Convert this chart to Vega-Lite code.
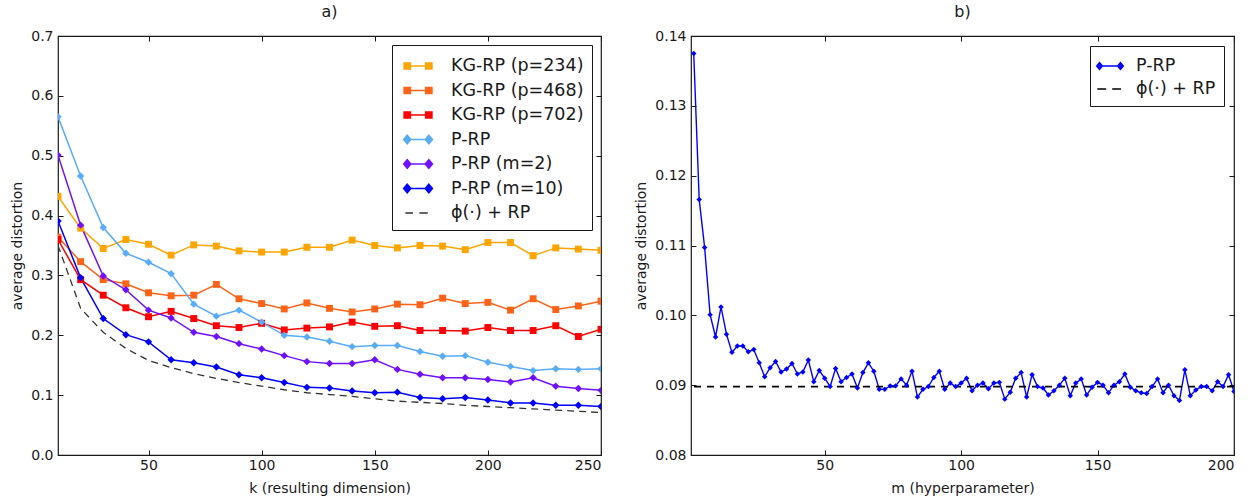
{
"$schema": "https://vega.github.io/schema/vega-lite/v6.json",
"padding": {"left": 10, "top": 3, "right": 5, "bottom": 0},
"config": {
  "font": "DejaVu Sans",
  "view": {"stroke": "#1a1a1a", "strokeWidth": 1.2},
  "axis": {"grid": false, "domain": false, "tickSize": -5, "tickColor": "#1a1a1a", "tickWidth": 1, "labelPadding": 10, "labelFontSize": 14, "labelColor": "#1a1a1a", "titleFontSize": 14, "titleFontWeight": "normal", "titleColor": "#1a1a1a", "titlePadding": 6},
  "axisBottom": {"labelPadding": 8, "titlePadding": 9},
  "title": {"fontSize": 16, "fontWeight": "normal", "offset": 9, "color": "#1a1a1a"}
},
"datasets": {
"a": [
{"k":10,"series":"KG-RP (p=234)","value":0.432},{"k":20,"series":"KG-RP (p=234)","value":0.379},{"k":30,"series":"KG-RP (p=234)","value":0.345},{"k":40,"series":"KG-RP (p=234)","value":0.360},{"k":50,"series":"KG-RP (p=234)","value":0.352},{"k":60,"series":"KG-RP (p=234)","value":0.334},{"k":70,"series":"KG-RP (p=234)","value":0.351},{"k":80,"series":"KG-RP (p=234)","value":0.349},{"k":90,"series":"KG-RP (p=234)","value":0.341},{"k":100,"series":"KG-RP (p=234)","value":0.339},{"k":110,"series":"KG-RP (p=234)","value":0.339},{"k":120,"series":"KG-RP (p=234)","value":0.347},{"k":130,"series":"KG-RP (p=234)","value":0.347},{"k":140,"series":"KG-RP (p=234)","value":0.359},{"k":150,"series":"KG-RP (p=234)","value":0.350},{"k":160,"series":"KG-RP (p=234)","value":0.346},{"k":170,"series":"KG-RP (p=234)","value":0.350},{"k":180,"series":"KG-RP (p=234)","value":0.349},{"k":190,"series":"KG-RP (p=234)","value":0.343},{"k":200,"series":"KG-RP (p=234)","value":0.355},{"k":210,"series":"KG-RP (p=234)","value":0.355},{"k":220,"series":"KG-RP (p=234)","value":0.333},{"k":230,"series":"KG-RP (p=234)","value":0.346},{"k":240,"series":"KG-RP (p=234)","value":0.344},{"k":250,"series":"KG-RP (p=234)","value":0.342},
{"k":10,"series":"KG-RP (p=468)","value":0.364},{"k":20,"series":"KG-RP (p=468)","value":0.323},{"k":30,"series":"KG-RP (p=468)","value":0.293},{"k":40,"series":"KG-RP (p=468)","value":0.286},{"k":50,"series":"KG-RP (p=468)","value":0.271},{"k":60,"series":"KG-RP (p=468)","value":0.266},{"k":70,"series":"KG-RP (p=468)","value":0.267},{"k":80,"series":"KG-RP (p=468)","value":0.285},{"k":90,"series":"KG-RP (p=468)","value":0.261},{"k":100,"series":"KG-RP (p=468)","value":0.253},{"k":110,"series":"KG-RP (p=468)","value":0.244},{"k":120,"series":"KG-RP (p=468)","value":0.254},{"k":130,"series":"KG-RP (p=468)","value":0.245},{"k":140,"series":"KG-RP (p=468)","value":0.239},{"k":150,"series":"KG-RP (p=468)","value":0.244},{"k":160,"series":"KG-RP (p=468)","value":0.252},{"k":170,"series":"KG-RP (p=468)","value":0.251},{"k":180,"series":"KG-RP (p=468)","value":0.262},{"k":190,"series":"KG-RP (p=468)","value":0.253},{"k":200,"series":"KG-RP (p=468)","value":0.255},{"k":210,"series":"KG-RP (p=468)","value":0.242},{"k":220,"series":"KG-RP (p=468)","value":0.261},{"k":230,"series":"KG-RP (p=468)","value":0.243},{"k":240,"series":"KG-RP (p=468)","value":0.249},{"k":250,"series":"KG-RP (p=468)","value":0.257},
{"k":10,"series":"KG-RP (p=702)","value":0.360},{"k":20,"series":"KG-RP (p=702)","value":0.293},{"k":30,"series":"KG-RP (p=702)","value":0.267},{"k":40,"series":"KG-RP (p=702)","value":0.246},{"k":50,"series":"KG-RP (p=702)","value":0.231},{"k":60,"series":"KG-RP (p=702)","value":0.240},{"k":70,"series":"KG-RP (p=702)","value":0.228},{"k":80,"series":"KG-RP (p=702)","value":0.216},{"k":90,"series":"KG-RP (p=702)","value":0.213},{"k":100,"series":"KG-RP (p=702)","value":0.220},{"k":110,"series":"KG-RP (p=702)","value":0.209},{"k":120,"series":"KG-RP (p=702)","value":0.212},{"k":130,"series":"KG-RP (p=702)","value":0.214},{"k":140,"series":"KG-RP (p=702)","value":0.222},{"k":150,"series":"KG-RP (p=702)","value":0.215},{"k":160,"series":"KG-RP (p=702)","value":0.216},{"k":170,"series":"KG-RP (p=702)","value":0.208},{"k":180,"series":"KG-RP (p=702)","value":0.208},{"k":190,"series":"KG-RP (p=702)","value":0.207},{"k":200,"series":"KG-RP (p=702)","value":0.213},{"k":210,"series":"KG-RP (p=702)","value":0.208},{"k":220,"series":"KG-RP (p=702)","value":0.208},{"k":230,"series":"KG-RP (p=702)","value":0.216},{"k":240,"series":"KG-RP (p=702)","value":0.198},{"k":250,"series":"KG-RP (p=702)","value":0.210},
{"k":10,"series":"P-RP","value":0.565},{"k":20,"series":"P-RP","value":0.466},{"k":30,"series":"P-RP","value":0.380},{"k":40,"series":"P-RP","value":0.337},{"k":50,"series":"P-RP","value":0.322},{"k":60,"series":"P-RP","value":0.303},{"k":70,"series":"P-RP","value":0.252},{"k":80,"series":"P-RP","value":0.232},{"k":90,"series":"P-RP","value":0.242},{"k":100,"series":"P-RP","value":0.222},{"k":110,"series":"P-RP","value":0.200},{"k":120,"series":"P-RP","value":0.197},{"k":130,"series":"P-RP","value":0.190},{"k":140,"series":"P-RP","value":0.181},{"k":150,"series":"P-RP","value":0.183},{"k":160,"series":"P-RP","value":0.183},{"k":170,"series":"P-RP","value":0.173},{"k":180,"series":"P-RP","value":0.165},{"k":190,"series":"P-RP","value":0.166},{"k":200,"series":"P-RP","value":0.155},{"k":210,"series":"P-RP","value":0.148},{"k":220,"series":"P-RP","value":0.141},{"k":230,"series":"P-RP","value":0.144},{"k":240,"series":"P-RP","value":0.143},{"k":250,"series":"P-RP","value":0.144},
{"k":10,"series":"P-RP (m=2)","value":0.501},{"k":20,"series":"P-RP (m=2)","value":0.384},{"k":30,"series":"P-RP (m=2)","value":0.299},{"k":40,"series":"P-RP (m=2)","value":0.276},{"k":50,"series":"P-RP (m=2)","value":0.242},{"k":60,"series":"P-RP (m=2)","value":0.229},{"k":70,"series":"P-RP (m=2)","value":0.205},{"k":80,"series":"P-RP (m=2)","value":0.198},{"k":90,"series":"P-RP (m=2)","value":0.186},{"k":100,"series":"P-RP (m=2)","value":0.177},{"k":110,"series":"P-RP (m=2)","value":0.166},{"k":120,"series":"P-RP (m=2)","value":0.156},{"k":130,"series":"P-RP (m=2)","value":0.153},{"k":140,"series":"P-RP (m=2)","value":0.153},{"k":150,"series":"P-RP (m=2)","value":0.159},{"k":160,"series":"P-RP (m=2)","value":0.143},{"k":170,"series":"P-RP (m=2)","value":0.135},{"k":180,"series":"P-RP (m=2)","value":0.129},{"k":190,"series":"P-RP (m=2)","value":0.129},{"k":200,"series":"P-RP (m=2)","value":0.126},{"k":210,"series":"P-RP (m=2)","value":0.122},{"k":220,"series":"P-RP (m=2)","value":0.129},{"k":230,"series":"P-RP (m=2)","value":0.115},{"k":240,"series":"P-RP (m=2)","value":0.111},{"k":250,"series":"P-RP (m=2)","value":0.108},
{"k":10,"series":"P-RP (m=10)","value":0.391},{"k":20,"series":"P-RP (m=10)","value":0.296},{"k":30,"series":"P-RP (m=10)","value":0.228},{"k":40,"series":"P-RP (m=10)","value":0.201},{"k":50,"series":"P-RP (m=10)","value":0.189},{"k":60,"series":"P-RP (m=10)","value":0.159},{"k":70,"series":"P-RP (m=10)","value":0.154},{"k":80,"series":"P-RP (m=10)","value":0.147},{"k":90,"series":"P-RP (m=10)","value":0.134},{"k":100,"series":"P-RP (m=10)","value":0.129},{"k":110,"series":"P-RP (m=10)","value":0.121},{"k":120,"series":"P-RP (m=10)","value":0.113},{"k":130,"series":"P-RP (m=10)","value":0.112},{"k":140,"series":"P-RP (m=10)","value":0.107},{"k":150,"series":"P-RP (m=10)","value":0.104},{"k":160,"series":"P-RP (m=10)","value":0.105},{"k":170,"series":"P-RP (m=10)","value":0.096},{"k":180,"series":"P-RP (m=10)","value":0.094},{"k":190,"series":"P-RP (m=10)","value":0.096},{"k":200,"series":"P-RP (m=10)","value":0.092},{"k":210,"series":"P-RP (m=10)","value":0.087},{"k":220,"series":"P-RP (m=10)","value":0.087},{"k":230,"series":"P-RP (m=10)","value":0.083},{"k":240,"series":"P-RP (m=10)","value":0.083},{"k":250,"series":"P-RP (m=10)","value":0.081},
{"k":10,"series":"ϕ(·) + RP","value":0.350},{"k":20,"series":"ϕ(·) + RP","value":0.245},{"k":30,"series":"ϕ(·) + RP","value":0.205},{"k":40,"series":"ϕ(·) + RP","value":0.178},{"k":50,"series":"ϕ(·) + RP","value":0.158},{"k":60,"series":"ϕ(·) + RP","value":0.146},{"k":70,"series":"ϕ(·) + RP","value":0.136},{"k":80,"series":"ϕ(·) + RP","value":0.128},{"k":90,"series":"ϕ(·) + RP","value":0.121},{"k":100,"series":"ϕ(·) + RP","value":0.115},{"k":110,"series":"ϕ(·) + RP","value":0.109},{"k":120,"series":"ϕ(·) + RP","value":0.104},{"k":130,"series":"ϕ(·) + RP","value":0.101},{"k":140,"series":"ϕ(·) + RP","value":0.098},{"k":150,"series":"ϕ(·) + RP","value":0.094},{"k":160,"series":"ϕ(·) + RP","value":0.090},{"k":170,"series":"ϕ(·) + RP","value":0.088},{"k":180,"series":"ϕ(·) + RP","value":0.086},{"k":190,"series":"ϕ(·) + RP","value":0.083},{"k":200,"series":"ϕ(·) + RP","value":0.081},{"k":210,"series":"ϕ(·) + RP","value":0.079},{"k":220,"series":"ϕ(·) + RP","value":0.077},{"k":230,"series":"ϕ(·) + RP","value":0.075},{"k":240,"series":"ϕ(·) + RP","value":0.073},{"k":250,"series":"ϕ(·) + RP","value":0.071}
],
"b": [
{"m":2,"series":"P-RP","value":0.1375},{"m":4,"series":"P-RP","value":0.1166},{"m":6,"series":"P-RP","value":0.1097},{"m":8,"series":"P-RP","value":0.1001},{"m":10,"series":"P-RP","value":0.0969},{"m":12,"series":"P-RP","value":0.1012},{"m":14,"series":"P-RP","value":0.0973},{"m":16,"series":"P-RP","value":0.0947},{"m":18,"series":"P-RP","value":0.0956},{"m":20,"series":"P-RP","value":0.0956},
{"m":22,"series":"P-RP","value":0.0948},{"m":24,"series":"P-RP","value":0.0951},{"m":26,"series":"P-RP","value":0.0932},{"m":28,"series":"P-RP","value":0.0912},{"m":30,"series":"P-RP","value":0.0925},{"m":32,"series":"P-RP","value":0.0934},{"m":34,"series":"P-RP","value":0.0919},{"m":36,"series":"P-RP","value":0.0923},{"m":38,"series":"P-RP","value":0.0931},{"m":40,"series":"P-RP","value":0.0916},
{"m":42,"series":"P-RP","value":0.0919},{"m":44,"series":"P-RP","value":0.0936},{"m":46,"series":"P-RP","value":0.0905},{"m":48,"series":"P-RP","value":0.0921},{"m":50,"series":"P-RP","value":0.0910},{"m":52,"series":"P-RP","value":0.0898},{"m":54,"series":"P-RP","value":0.0924},{"m":56,"series":"P-RP","value":0.0905},{"m":58,"series":"P-RP","value":0.0911},{"m":60,"series":"P-RP","value":0.0916},
{"m":62,"series":"P-RP","value":0.0896},{"m":64,"series":"P-RP","value":0.0918},{"m":66,"series":"P-RP","value":0.0932},{"m":68,"series":"P-RP","value":0.0920},{"m":70,"series":"P-RP","value":0.0894},{"m":72,"series":"P-RP","value":0.0894},{"m":74,"series":"P-RP","value":0.0899},{"m":76,"series":"P-RP","value":0.0899},{"m":78,"series":"P-RP","value":0.0909},{"m":80,"series":"P-RP","value":0.0900},
{"m":82,"series":"P-RP","value":0.0920},{"m":84,"series":"P-RP","value":0.0883},{"m":86,"series":"P-RP","value":0.0894},{"m":88,"series":"P-RP","value":0.0898},{"m":90,"series":"P-RP","value":0.0911},{"m":92,"series":"P-RP","value":0.0920},{"m":94,"series":"P-RP","value":0.0894},{"m":96,"series":"P-RP","value":0.0903},{"m":98,"series":"P-RP","value":0.0898},{"m":100,"series":"P-RP","value":0.0903},
{"m":102,"series":"P-RP","value":0.0910},{"m":104,"series":"P-RP","value":0.0892},{"m":106,"series":"P-RP","value":0.0900},{"m":108,"series":"P-RP","value":0.0903},{"m":110,"series":"P-RP","value":0.0895},{"m":112,"series":"P-RP","value":0.0903},{"m":114,"series":"P-RP","value":0.0904},{"m":116,"series":"P-RP","value":0.0880},{"m":118,"series":"P-RP","value":0.0890},{"m":120,"series":"P-RP","value":0.0910},
{"m":122,"series":"P-RP","value":0.0918},{"m":124,"series":"P-RP","value":0.0883},{"m":126,"series":"P-RP","value":0.0915},{"m":128,"series":"P-RP","value":0.0898},{"m":130,"series":"P-RP","value":0.0896},{"m":132,"series":"P-RP","value":0.0886},{"m":134,"series":"P-RP","value":0.0892},{"m":136,"series":"P-RP","value":0.0900},{"m":138,"series":"P-RP","value":0.0910},{"m":140,"series":"P-RP","value":0.0885},
{"m":142,"series":"P-RP","value":0.0903},{"m":144,"series":"P-RP","value":0.0909},{"m":146,"series":"P-RP","value":0.0886},{"m":148,"series":"P-RP","value":0.0897},{"m":150,"series":"P-RP","value":0.0904},{"m":152,"series":"P-RP","value":0.0900},{"m":154,"series":"P-RP","value":0.0889},{"m":156,"series":"P-RP","value":0.0900},{"m":158,"series":"P-RP","value":0.0905},{"m":160,"series":"P-RP","value":0.0916},
{"m":162,"series":"P-RP","value":0.0897},{"m":164,"series":"P-RP","value":0.0892},{"m":166,"series":"P-RP","value":0.0889},{"m":168,"series":"P-RP","value":0.0888},{"m":170,"series":"P-RP","value":0.0898},{"m":172,"series":"P-RP","value":0.0909},{"m":174,"series":"P-RP","value":0.0889},{"m":176,"series":"P-RP","value":0.0900},{"m":178,"series":"P-RP","value":0.0885},{"m":180,"series":"P-RP","value":0.0878},
{"m":182,"series":"P-RP","value":0.0922},{"m":184,"series":"P-RP","value":0.0885},{"m":186,"series":"P-RP","value":0.0893},{"m":188,"series":"P-RP","value":0.0898},{"m":190,"series":"P-RP","value":0.0898},{"m":192,"series":"P-RP","value":0.0892},{"m":194,"series":"P-RP","value":0.0905},{"m":196,"series":"P-RP","value":0.0898},{"m":198,"series":"P-RP","value":0.0915},{"m":200,"series":"P-RP","value":0.0891}
],
"bphi": [{"series":"ϕ(·) + RP","value":0.0898}]
},
"resolve": {"scale": {"color": "independent", "shape": "independent", "stroke": "independent", "fill": "independent"}},
"spacing": 27,
"hconcat": [
{
  "title": "a)",
  "width": 543, "height": 419,
  "data": {"name": "a"},
  "resolve": {"axis": {"x": "independent", "y": "independent"}},
  "layer": [
    {
      "transform": [{"filter": "datum.series != 'ϕ(·) + RP'"}],
      "mark": {"type": "line", "strokeWidth": 1.5, "clip": true},
      "encoding": {
        "x": {"field": "k", "type": "quantitative", "scale": {"domain": [10, 250], "nice": false, "zero": false}, "axis": {"values": [50, 100, 150, 200, 250], "title": "k (resulting dimension)"}},
        "y": {"field": "value", "type": "quantitative", "scale": {"domain": [0, 0.7], "nice": false}, "axis": {"values": [0, 0.1, 0.2, 0.3, 0.4, 0.5, 0.6, 0.7], "format": ".1f", "title": "average distortion"}},
        "stroke": {"field": "series", "type": "nominal", "scale": {"domain": ["KG-RP (p=234)", "KG-RP (p=468)", "KG-RP (p=702)", "P-RP", "P-RP (m=2)", "P-RP (m=10)"], "range": ["#ffa500", "#ff6318", "#ff0000", "#58acfa", "#7010ff", "#0000ff"]}, "legend": null}
      }
    },
    {
      "transform": [{"filter": "datum.series == 'ϕ(·) + RP'"}],
      "mark": {"type": "line", "strokeWidth": 1.3, "strokeDash": [7, 5], "color": "#333333", "clip": true},
      "encoding": {
        "x": {"field": "k", "type": "quantitative", "scale": {"domain": [10, 250], "nice": false, "zero": false}, "axis": null},
        "y": {"field": "value", "type": "quantitative", "scale": {"domain": [0, 0.7], "nice": false}, "axis": null}
      }
    },
    {
      "transform": [{"filter": "indexof(datum.series, 'KG') == 0"}],
      "mark": {"type": "point", "filled": true, "opacity": 1, "size": 48, "shape": "square", "clip": true},
      "encoding": {
        "x": {"field": "k", "type": "quantitative", "scale": {"domain": [10, 250], "nice": false, "zero": false}, "axis": null},
        "y": {"field": "value", "type": "quantitative", "scale": {"domain": [0, 0.7], "nice": false}, "axis": null},
        "fill": {"field": "series", "type": "nominal", "scale": {"domain": ["KG-RP (p=234)", "KG-RP (p=468)", "KG-RP (p=702)", "P-RP", "P-RP (m=2)", "P-RP (m=10)"], "range": ["#ffa500", "#ff6318", "#ff0000", "#58acfa", "#7010ff", "#0000ff"]}, "legend": null}
      }
    },
    {
      "transform": [{"filter": "indexof(datum.series, 'P-RP') == 0"}],
      "mark": {"type": "point", "filled": true, "opacity": 1, "size": 55, "shape": "diamond", "clip": true},
      "encoding": {
        "x": {"field": "k", "type": "quantitative", "scale": {"domain": [10, 250], "nice": false, "zero": false}, "axis": null},
        "y": {"field": "value", "type": "quantitative", "scale": {"domain": [0, 0.7], "nice": false}, "axis": null},
        "fill": {"field": "series", "type": "nominal", "legend": null}
      }
    },
    {
      "mark": {"type": "point", "filled": false, "opacity": 0},
      "encoding": {
        "x": {"field": "k", "type": "quantitative", "scale": {"domain": [10, 250], "nice": false, "zero": false}, "axis": null},
        "y": {"field": "value", "type": "quantitative", "scale": {"domain": [0, 0.7], "nice": false}, "axis": null},
        "color": {"field": "series", "type": "nominal", "scale": {"domain": ["KG-RP (p=234)", "KG-RP (p=468)", "KG-RP (p=702)", "P-RP", "P-RP (m=2)", "P-RP (m=10)", "ϕ(·) + RP"], "range": ["#ffa500", "#ff6318", "#ff0000", "#58acfa", "#7010ff", "#0000ff", "#333333"]}, "legend": {
          "title": null, "orient": "top-right", "offset": 9, "padding": 8, "strokeColor": "#1a1a1a", "fillColor": "white",
          "labelFontSize": 17.5, "labelColor": "#1a1a1a", "labelLimit": 400, "symbolSize": 576, "rowPadding": 2.5, "labelOffset": 25, "symbolOpacity": 1, "symbolStrokeWidth": 1.5
        }},
        "shape": {"field": "series", "type": "nominal", "scale": {"domain": ["KG-RP (p=234)", "KG-RP (p=468)", "KG-RP (p=702)", "P-RP", "P-RP (m=2)", "P-RP (m=10)", "ϕ(·) + RP"], "range": [
          "M-0.48,0H1.32M-0.74,-0.26H-0.22V0.26H-0.74ZM-0.74,-0.13H-0.22M-0.74,0H-0.22M-0.74,0.13H-0.22M1.06,-0.26H1.58V0.26H1.06ZM1.06,-0.13H1.58M1.06,0H1.58M1.06,0.13H1.58",
          "M-0.48,0H1.32M-0.74,-0.26H-0.22V0.26H-0.74ZM-0.74,-0.13H-0.22M-0.74,0H-0.22M-0.74,0.13H-0.22M1.06,-0.26H1.58V0.26H1.06ZM1.06,-0.13H1.58M1.06,0H1.58M1.06,0.13H1.58",
          "M-0.48,0H1.32M-0.74,-0.26H-0.22V0.26H-0.74ZM-0.74,-0.13H-0.22M-0.74,0H-0.22M-0.74,0.13H-0.22M1.06,-0.26H1.58V0.26H1.06ZM1.06,-0.13H1.58M1.06,0H1.58M1.06,0.13H1.58",
          "M-0.48,0H1.32M-0.48,-0.36L-0.18,0L-0.48,0.36L-0.78,0ZM-0.78,0H-0.18M-0.63,-0.18H-0.33M-0.63,0.18H-0.33M-0.705,-0.09H-0.255M-0.705,0.09H-0.255M-0.555,-0.27H-0.405M-0.555,0.27H-0.405M1.32,-0.36L1.62,0L1.32,0.36L1.02,0ZM1.02,0H1.62M1.17,-0.18H1.47M1.17,0.18H1.47M1.095,-0.09H1.545M1.095,0.09H1.545M1.245,-0.27H1.395M1.245,0.27H1.395",
          "M-0.48,0H1.32M-0.48,-0.36L-0.18,0L-0.48,0.36L-0.78,0ZM-0.78,0H-0.18M-0.63,-0.18H-0.33M-0.63,0.18H-0.33M-0.705,-0.09H-0.255M-0.705,0.09H-0.255M-0.555,-0.27H-0.405M-0.555,0.27H-0.405M1.32,-0.36L1.62,0L1.32,0.36L1.02,0ZM1.02,0H1.62M1.17,-0.18H1.47M1.17,0.18H1.47M1.095,-0.09H1.545M1.095,0.09H1.545M1.245,-0.27H1.395M1.245,0.27H1.395",
          "M-0.48,0H1.32M-0.48,-0.36L-0.18,0L-0.48,0.36L-0.78,0ZM-0.78,0H-0.18M-0.63,-0.18H-0.33M-0.63,0.18H-0.33M-0.705,-0.09H-0.255M-0.705,0.09H-0.255M-0.555,-0.27H-0.405M-0.555,0.27H-0.405M1.32,-0.36L1.62,0L1.32,0.36L1.02,0ZM1.02,0H1.62M1.17,-0.18H1.47M1.17,0.18H1.47M1.095,-0.09H1.545M1.095,0.09H1.545M1.245,-0.27H1.395M1.245,0.27H1.395",
          "M-0.64,0H0M0.53,0H1.23"
        ]}, "legend": {
          "title": null, "orient": "top-right", "offset": 9, "padding": 8, "strokeColor": "#1a1a1a", "fillColor": "white",
          "labelFontSize": 17.5, "labelColor": "#1a1a1a", "labelLimit": 400, "symbolSize": 576, "rowPadding": 2.5, "labelOffset": 25, "symbolOpacity": 1, "symbolStrokeWidth": 1.5
        }}
      }
    },
    {
      "mark": {"type": "point", "opacity": 0},
      "encoding": {
        "x": {"field": "k", "type": "quantitative", "scale": {"domain": [10, 250], "nice": false, "zero": false}, "axis": {"orient": "top", "values": [50, 100, 150, 200, 250], "labels": false, "title": null}},
        "y": {"field": "value", "type": "quantitative", "scale": {"domain": [0, 0.7], "nice": false}, "axis": {"orient": "right", "values": [0, 0.1, 0.2, 0.3, 0.4, 0.5, 0.6, 0.7], "labels": false, "title": null}}
      }
    }
  ]
},
{
  "title": "b)",
  "width": 543, "height": 419,
  "resolve": {"axis": {"x": "independent", "y": "independent"}},
  "layer": [
    {
      "data": {"name": "b"},
      "mark": {"type": "line", "strokeWidth": 1.4, "color": "#0000ff", "clip": true},
      "encoding": {
        "x": {"field": "m", "type": "quantitative", "scale": {"domain": [1, 200], "nice": false, "zero": false}, "axis": {"values": [50, 100, 150, 200], "title": "m (hyperparameter)"}},
        "y": {"field": "value", "type": "quantitative", "scale": {"domain": [0.08, 0.14], "nice": false, "zero": false}, "axis": {"values": [0.08, 0.09, 0.10, 0.11, 0.12, 0.13, 0.14], "format": ".2f", "title": "average distortion"}}
      }
    },
    {
      "data": {"name": "bphi"},
      "mark": {"type": "rule", "strokeWidth": 1.8, "strokeDash": [7, 6], "color": "#000000"},
      "encoding": {
        "y": {"field": "value", "type": "quantitative", "scale": {"domain": [0.08, 0.14], "nice": false, "zero": false}, "axis": null}
      }
    },
    {
      "data": {"name": "b"},
      "mark": {"type": "point", "filled": true, "opacity": 1, "size": 30, "shape": "diamond", "color": "#0000ff", "clip": true},
      "encoding": {
        "x": {"field": "m", "type": "quantitative", "scale": {"domain": [1, 200], "nice": false, "zero": false}, "axis": null},
        "y": {"field": "value", "type": "quantitative", "scale": {"domain": [0.08, 0.14], "nice": false, "zero": false}, "axis": null}
      }
    },
    {
      "data": {"name": "b"},
      "mark": {"type": "point", "filled": false, "opacity": 0},
      "encoding": {
        "x": {"field": "m", "type": "quantitative", "scale": {"domain": [1, 200], "nice": false, "zero": false}, "axis": null},
        "y": {"field": "value", "type": "quantitative", "scale": {"domain": [0.08, 0.14], "nice": false, "zero": false}, "axis": null},
        "color": {"field": "series", "type": "nominal", "scale": {"domain": ["P-RP", "ϕ(·) + RP"], "range": ["#0000ff", "#000000"]}, "legend": {
          "title": null, "orient": "top-right", "offset": 10, "padding": 8, "strokeColor": "#1a1a1a", "fillColor": "white",
          "labelFontSize": 17.5, "labelColor": "#1a1a1a", "labelLimit": 400, "symbolSize": 484, "rowPadding": 2, "labelOffset": 14, "symbolOpacity": 1, "symbolStrokeWidth": 1.6
        }},
        "shape": {"field": "series", "type": "nominal", "scale": {"domain": ["P-RP", "ϕ(·) + RP"], "range": [
          "M-0.95,0H0.95M-0.95,-0.3L-0.7,0L-0.95,0.3L-1.2,0ZM-1.2,0H-0.7M-1.075,-0.15H-0.825M-1.075,0.15H-0.825M0.95,-0.3L1.2,0L0.95,0.3L0.7,0ZM0.7,0H1.2M0.825,-0.15H1.075M0.825,0.15H1.075",
          "M-1.15,0H-0.35M0.2,0H1.0"
        ]}, "legend": {
          "title": null, "orient": "top-right", "offset": 10, "padding": 8, "strokeColor": "#1a1a1a", "fillColor": "white",
          "labelFontSize": 17.5, "labelColor": "#1a1a1a", "labelLimit": 400, "symbolSize": 484, "rowPadding": 2, "labelOffset": 14, "symbolOpacity": 1, "symbolStrokeWidth": 1.6
        }}
      }
    },
    {
      "data": {"name": "b"},
      "mark": {"type": "point", "opacity": 0},
      "encoding": {
        "x": {"field": "m", "type": "quantitative", "scale": {"domain": [1, 200], "nice": false, "zero": false}, "axis": {"orient": "top", "values": [50, 100, 150, 200], "labels": false, "title": null}},
        "y": {"field": "value", "type": "quantitative", "scale": {"domain": [0.08, 0.14], "nice": false, "zero": false}, "axis": {"orient": "right", "values": [0.08, 0.09, 0.10, 0.11, 0.12, 0.13, 0.14], "labels": false, "title": null}}
      }
    }
  ]
}
]
}
